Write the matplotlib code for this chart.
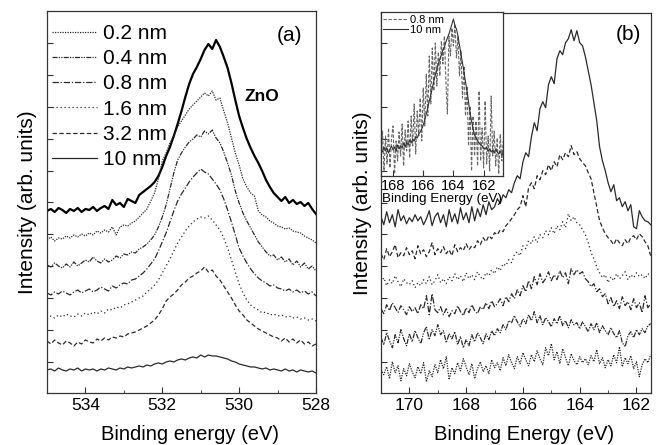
import numpy as np
import matplotlib.pyplot as plt
from matplotlib.ticker import MultipleLocator

plt.rcParams['font.family'] = ['Liberation Sans', 'DejaVu Sans']

# ---- panel (a): O 1s, intensity in arb. units (535.0 -> 528.0 eV, 0.1 eV step)
energy_a = np.round(np.arange(535.0, 527.95, -0.1), 1)

zno = [182, 184, 181, 185, 183, 180, 184, 182, 185, 181,
       184, 183, 186, 182, 185, 187, 184, 193, 188, 190,
       186, 194, 192, 190, 198, 201, 204, 207, 211, 217,
       226, 237, 246, 257, 269, 282, 296, 309, 319, 326,
       334, 343, 349, 344, 353, 346, 336, 325, 310, 293,
       277, 265, 254, 245, 237, 230, 222, 213, 206, 200,
       196, 192, 196, 190, 193, 189, 191, 187, 190, 184,
       179]
a_02 = [153, 156, 152, 155, 154, 157, 155, 158, 156, 159,
        157, 160, 158, 162, 160, 163, 161, 166, 158, 166,
        168, 167, 170, 172, 176, 180, 184, 192, 200, 214,
        232, 240, 250, 257, 266, 272, 278, 284, 288, 292,
        296, 300, 297, 302, 293, 295, 282, 270, 255, 240,
        228, 214, 206, 200, 197, 182, 178, 176, 172, 170,
        167, 166, 164, 165, 162, 161, 160, 157, 155, 153,
        150]
a_04 = [128, 126, 130, 127, 125, 129, 126, 131, 127, 130,
        133, 131, 136, 132, 130, 134, 131, 133, 137, 135,
        139, 138, 141, 140, 144, 146, 149, 153, 158, 166,
        176, 188, 204, 220, 233, 240, 246, 251, 254, 258,
        256, 262, 259, 263, 255, 250, 241, 230, 218, 202,
        190, 180, 172, 165, 158, 151, 146, 141, 137, 138,
        133, 136, 131, 134, 128, 132, 126, 130, 124, 127,
        122]
a_08 = [100, 98, 101, 99, 102, 100, 98, 101, 103, 100,
        102, 104, 101, 103, 106, 104, 102, 107, 105, 108,
        110, 109, 113, 114, 117, 120, 124, 129, 134, 142,
        151, 160, 171, 182, 192, 199, 205, 211, 216, 220,
        224, 221, 219, 214, 209, 203, 194, 183, 171, 158,
        145, 137, 130, 124, 119, 115, 112, 110, 107, 108,
        105, 104, 102, 104, 101, 103, 100, 102, 99, 101,
        97]
a_16 = [74, 77, 75, 78, 76, 79, 77, 76, 79, 77,
        80, 78, 81, 79, 82, 80, 84, 83, 86, 85,
        88, 89, 91, 93, 95, 97, 101, 104, 108, 113,
        120, 127, 134, 142, 150, 156, 162, 167, 171, 174,
        176, 175, 177, 173, 168, 163, 155, 145, 133, 121,
        109, 100, 93, 88, 85, 83, 80, 81, 78, 79,
        77, 78, 76, 77, 75, 76, 74, 75, 73, 74,
        72]
a_32 = [52, 49, 53, 50, 48, 52, 50, 47, 51, 49,
        53, 51, 50, 54, 52, 55, 53, 56, 55, 57,
        56, 59, 60, 61, 63, 65, 67, 70, 73, 78,
        84, 92, 96, 99, 103, 108, 111, 115, 117, 120,
        122, 126, 121, 123, 117, 113, 107, 101, 95, 88,
        82, 78, 73, 70, 67, 64, 62, 60, 58, 56,
        55, 52, 55, 51, 54, 50, 53, 49, 51, 47,
        49]
a_10 = [23, 24, 22, 25, 23, 22, 24, 23, 25, 22,
        24, 23, 24, 22, 24, 23, 25, 24, 23, 25,
        24, 26, 25, 26, 27, 26, 28, 27, 29, 30,
        29, 31, 32, 31, 33, 34, 33, 35, 36, 35,
        38, 36, 38, 37, 37, 36, 35, 34, 32, 31,
        29, 28, 27, 26, 26, 25, 24, 25, 23, 24,
        23, 22, 24, 22, 23, 21, 23, 22, 21, 22,
        20]

# ---- panel (b): S 2p (171.0 -> 161.5 eV, 0.1 eV step)
energy_b = np.round(np.arange(171.0, 161.45, -0.1), 1)

b_10 = [176, 168, 181, 170, 178, 166, 183, 172, 177, 169,
        175, 171, 178, 172, 176, 168, 174, 182, 167, 176,
        180, 170, 178, 166, 183, 171, 179, 169, 185, 173,
        180, 170, 186, 172, 184, 176, 188, 178, 191, 183,
        186, 194, 189, 198, 195, 203, 200, 210, 217, 214,
        231, 240, 236, 256, 270, 262, 284, 291, 285, 308,
        316, 309, 334, 342, 338, 350, 354, 363, 352, 362,
        350, 347, 336, 322, 308, 290, 272, 246, 232, 222,
        210, 201, 208, 192, 195, 186, 191, 182, 188, 166,
        164, 182, 176, 172, 171, 168]
b_32 = [139, 133, 144, 136, 141, 148, 135, 140, 137, 145,
        138, 142, 134, 147, 139, 143, 136, 141, 150, 138,
        144, 140, 146, 139, 143, 137, 148, 141, 145, 142,
        149, 143, 147, 145, 152, 148, 155, 151, 157, 154,
        160, 158, 163, 161, 167, 170, 174, 178, 183, 186,
        197, 186, 205, 210, 204, 217, 213, 222, 218, 228,
        222, 231, 226, 238, 233, 240, 236, 247, 238, 241,
        234, 230, 227, 220, 214, 200, 186, 172, 165, 159,
        155, 152, 148, 154, 150, 147, 153, 149, 155, 157,
        153, 159, 156, 151, 147, 137]
b_16 = [110, 115, 107, 113, 109, 117, 111, 106, 114, 110,
        108, 112, 105, 110, 107, 113, 109, 116, 108, 112,
        118, 110, 114, 109, 116, 112, 119, 113, 117, 111,
        120, 114, 118, 113, 121, 116, 113, 120, 117, 123,
        119, 126, 122, 129, 127, 133, 130, 138, 141, 137,
        147, 144, 152, 149, 156, 150, 158, 155, 162, 158,
        165, 159, 167, 163, 171, 165, 179, 172, 176, 170,
        168, 163, 158, 150, 140, 134, 126, 120, 115, 118,
        110, 116, 112, 119, 114, 117, 121, 113, 118, 115,
        120, 116, 118, 114, 119, 117]
b_08 = [84, 79, 88, 82, 90, 85, 80, 87, 83, 78,
        86, 81, 85, 79, 88, 84, 97, 78, 99, 83,
        80, 86, 78, 84, 76, 82, 79, 87, 81, 77,
        85, 80, 88, 82, 79, 86, 83, 90, 84, 92,
        86, 89, 94, 87, 96, 91, 99, 94, 103, 97,
        107, 101, 112, 104, 116, 108, 119, 110, 114, 121,
        112, 118, 113, 122, 115, 120, 109, 124, 118, 123,
        119, 121, 114, 111, 106, 109, 101, 104, 96, 99,
        89, 95, 86, 92, 84, 96, 87, 91, 83, 94,
        85, 90, 80, 97, 85, 89]
b_04 = [55, 48, 60, 52, 45, 58, 50, 63, 54, 47,
        59, 51, 62, 55, 49, 60, 66, 53, 63, 57,
        68, 58, 62, 50, 59, 54, 61, 48, 56, 45,
        53, 47, 58, 51, 60, 55, 49, 59, 53, 62,
        57, 64, 60, 68, 63, 72, 70, 77, 71, 66,
        74, 69, 78, 72, 81, 70, 77, 68, 75, 71,
        66, 74, 69, 77, 67, 72, 65, 73, 68, 70,
        64, 71, 66, 61, 69, 63, 70, 60, 67, 62,
        58, 65, 59, 55, 62, 50, 46, 57, 61, 55,
        63, 58, 64, 60, 67, 69]
b_02 = [23, 18, 26, 14, 31, 20, 27, 12, 24, 17,
        29, 21, 15, 26, 19, 30, 11, 22, 16, 28,
        20, 33, 24, 36, 13, 25, 19, 30, 22, 34,
        26, 18, 29, 14, 24, 31, 21, 27, 19, 33,
        25, 30, 22, 35, 27, 38, 30, 24, 36, 29,
        40, 33, 27, 38, 31, 42, 34, 28, 45, 37,
        49, 33, 41, 29, 44, 35, 27, 39, 32, 28,
        36, 30, 34, 28, 37, 31, 43, 29, 35, 25,
        33, 27, 38, 30, 46, 26, 35, 29, 37, 24,
        31, 16, 28, 34, 30, 38]

# ---- inset of (b): normalised 0.8 nm vs 10 nm (168.8 -> 160.7 eV)
energy_in = np.round(np.arange(168.8, 160.65, -0.1), 1)

in_10 = [27, 24, 29, 25, 28, 23, 27, 30, 26, 29,
         25, 31, 27, 30, 28, 33, 29, 34, 31, 36,
         33, 37, 35, 39, 38, 42, 44, 47, 51, 56,
         62, 68, 75, 81, 88, 95, 101, 107, 112, 117,
         121, 126, 129, 134, 138, 142, 147, 152, 157, 150,
         147, 140, 131, 122, 113, 104, 94, 85, 74, 63,
         55, 47, 41, 38, 35, 33, 31, 30, 28, 27,
         29, 25, 27, 24, 26, 23, 27, 24, 22, 25,
         21, 23]
in_08 = [10, 45, 5, 40, 12, 48, 8, 38, 50, 2,
         35, 15, 44, 20, 52, 10, 46, 25, 55, 18,
         60, 30, 72, 22, 65, 40, 78, 35, 88, 50,
         102, 60, 120, 72, 128, 85, 133, 90, 124, 100,
         135, 112, 140, 95, 62, 140, 120, 148, 130, 152,
         118, 140, 100, 125, 78, 110, 60, 90, 30, 70,
         5, 60, 20, 55, 10, 85, 15, 48, 8, 75,
         12, 40, 5, 80, 20, 45, 10, 38, 2, 42,
         15, 35]

labels = ['0.2 nm', '0.4 nm', '0.8 nm', '1.6 nm', '3.2 nm', '10 nm']
dashes = {'0.2 nm': (0, (1, 1)),
          '0.4 nm': (0, (4, 1, 1, 1, 1, 1)),
          '0.8 nm': (0, (5, 1.5, 1, 1.5)),
          '1.6 nm': (0, (1, 2.2)),
          '3.2 nm': (0, (3.5, 2)),
          '10 nm': '-'}
col = '#2a2a2a'

fig = plt.figure(figsize=(6.62, 4.45), dpi=100)
ax1 = fig.add_axes([0.0710, 0.1169, 0.4063, 0.8584])
ax2 = fig.add_axes([0.5755, 0.1175, 0.4074, 0.8539])
axin = fig.add_axes([0.5755, 0.6045, 0.1847, 0.3679])

# panel (a)
ax1.plot(energy_a, zno, color='black', lw=1.6)
for lab, y in zip(labels, [a_02, a_04, a_08, a_16, a_32, a_10]):
    ax1.plot(energy_a, y, color=col, lw=0.9, linestyle=dashes[lab], label=lab)
ax1.set_xlim(535, 528)
ax1.set_ylim(0, 382)
ax1.set_xticks([534, 532, 530, 528])
ax1.xaxis.set_minor_locator(MultipleLocator(1))
ax1.set_yticks(np.arange(31.3, 370, 31.84))
ax1.set_yticklabels([])
ax1.set_xlabel('Binding energy (eV)', fontsize=14.5)
ax1.xaxis.set_label_coords(0.53, -0.084)
ax1.set_ylabel('Intensity (arb. units)', fontsize=15)
ax1.yaxis.set_label_coords(-0.036, 0.5)
ax1.text(0.903, 0.935, '(a)', transform=ax1.transAxes, fontsize=15,
         ha='center', va='center')
ax1.text(0.80, 0.775, 'ZnO', transform=ax1.transAxes, fontsize=12.5,
         fontweight='bold', ha='center', va='center')
ax1.legend(loc='upper left', bbox_to_anchor=(0.0175, 0.966), fontsize=15,
           frameon=False, handlelength=2.15, handletextpad=0.3,
           labelspacing=0.3, borderaxespad=0, borderpad=0)

# panel (b)
for lab, y in zip(labels, [b_02, b_04, b_08, b_16, b_32, b_10]):
    ax2.plot(energy_b, y, color=col, lw=0.9, linestyle=dashes[lab])
ax2.set_xlim(171, 161.5)
ax2.set_ylim(0, 380)
ax2.set_xticks([170, 168, 166, 164, 162])
ax2.xaxis.set_minor_locator(MultipleLocator(1))
ax2.set_yticks(np.arange(31.0, 370, 31.83))
ax2.set_yticklabels([])
ax2.set_xlabel('Binding Energy (eV)', fontsize=14.5)
ax2.xaxis.set_label_coords(0.53, -0.085)
ax2.set_ylabel('Intensity (arb. units)', fontsize=15)
ax2.yaxis.set_label_coords(-0.034, 0.5)
ax2.text(0.916, 0.944, '(b)', transform=ax2.transAxes, fontsize=15,
         ha='center', va='center')

# inset
axin.set_facecolor('white')
axin.plot(energy_in, in_08, color='#666666', lw=0.8, linestyle=(0, (3, 1.5)),
          label='0.8 nm')
axin.plot(energy_in, in_10, color='#333333', lw=0.8, label='10 nm')
axin.set_xlim(168.8, 160.7)
axin.set_ylim(0, 163.7)
axin.set_xticks([168, 166, 164, 162])
axin.set_yticks(np.arange(5, 160, 31.9))
axin.set_yticklabels([])
axin.tick_params(labelsize=10.5, pad=2)
axin.set_xlabel('Binding Energy (eV)', fontsize=9.6, labelpad=0)
axin.legend(loc='upper left', fontsize=8, frameon=False, handlelength=2.2,
            handletextpad=0.2, labelspacing=0.0, borderaxespad=0.1,
            borderpad=0.1)

for ax in (ax1, ax2, axin):
    for s in ax.spines.values():
        s.set_color('#333333')
        s.set_linewidth(0.9)
    ax.tick_params(which='both', direction='in', top=False, right=False,
                   color='#333333')
    ax.tick_params(which='major', length=4)
    ax.tick_params(which='minor', length=2.5)
for ax in (ax1, ax2):
    ax.tick_params(axis='x', labelsize=12.5)

fig.savefig('out.png', dpi=100)
